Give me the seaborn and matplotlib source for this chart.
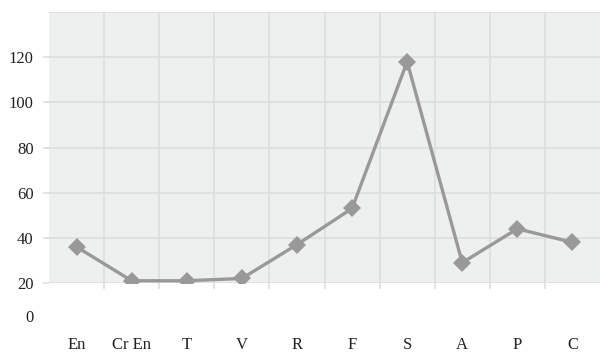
import matplotlib
matplotlib.use("Agg")
import matplotlib.pyplot as plt
import seaborn as sns
import pandas as pd
import numpy as np
from matplotlib.ticker import FixedLocator

categories = ["En", "Cr En", "T", "V", "R", "F", "S", "A", "P", "C"]
values = [36, 21, 21, 22, 37, 53, 118, 29, 44, 38]
ytick_vals = [20, 40, 60, 80, 100, 120]
ytick_labels = ["20", "40", "60", "80", "100", "120"]

sns.set_theme(style="white")
plt.rcParams["font.family"] = ["Liberation Serif", "DejaVu Serif"]

df = pd.DataFrame({"cat": categories, "val": values, "x": np.arange(len(categories))})

fig = plt.figure(figsize=(6, 3.52), dpi=100)
ax = fig.add_axes([49/600, 1 - 283/352, 551/600, (283-12)/352])
ax.set_facecolor("#eef0f0")

grid_c = "#dcdddd"
sns.lineplot(data=df, x="x", y="val", ax=ax, color="#999999", linewidth=2.4,
             marker="D", markersize=9, markeredgewidth=0, zorder=3)

ax.set_xlim(-0.5, len(categories) - 0.5)
ax.set_ylim(20, 140)
ax.set_yticks(ytick_vals)
ax.set_yticklabels(ytick_labels)
ax.set_xticks(np.arange(len(categories)))
ax.set_xticklabels(categories)
ax.xaxis.set_minor_locator(FixedLocator(np.arange(len(categories) - 1) + 0.5))
ax.grid(False)
for yv in ytick_vals + [140]:
    ax.axhline(yv, color=grid_c, lw=1.2, zorder=1)
for xv in np.arange(len(categories) - 1) + 0.5:
    ax.axvline(xv, color=grid_c, lw=1.2, zorder=1)

for s in ax.spines.values():
    s.set_visible(False)

ax.tick_params(axis="y", which="major", length=4, width=1.2, color=grid_c, pad=7,
               labelsize=12, labelcolor="#222222", left=True)
ax.tick_params(axis="x", which="major", length=0, pad=39, labelsize=12, labelcolor="#222222")
ax.tick_params(axis="x", which="minor", length=4, width=1.2, color=grid_c, bottom=True)
ax.set_xlabel("")
ax.set_ylabel("")

ax.text(34/600, 1 - 318/352, "0", transform=fig.transFigure, ha="right", va="center",
        fontsize=12, color="#222222")

fig.savefig("out.png", dpi=100)
